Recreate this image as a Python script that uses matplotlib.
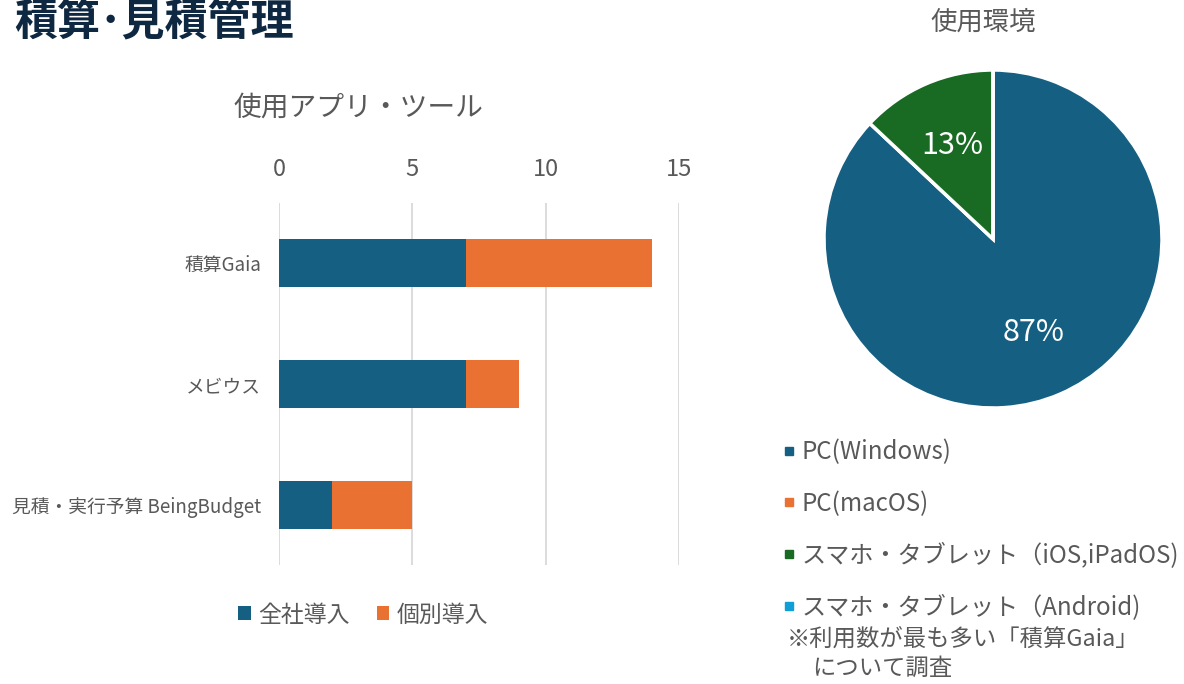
import matplotlib
matplotlib.use("Agg")
import matplotlib.pyplot as plt
from matplotlib.lines import Line2D

plt.rcParams['font.family'] = ['Noto Sans CJK JP', 'DejaVu Sans']

# bar chart data
tools = ["積算Gaia", "メビウス", "見積・実行予算 BeingBudget"]
company_wide = [7, 7, 2]
individual = [7, 2, 3]
bar_series = ["全社導入", "個別導入"]
x_ticks = [0, 5, 10, 15]

# pie chart data
env_labels = ["PC(Windows)", "PC(macOS)", "スマホ・タブレット（iOS,iPadOS)", "スマホ・タブレット（Android)"]
env_share = [87, 0, 13, 0]

BLUE = "#156082"
ORANGE = "#E97132"
GREEN = "#196B24"
SKY = "#0F9ED5"
GRAY = "#595959"
env_colors = [BLUE, ORANGE, GREEN, SKY]

W, H = 1184, 684
fig = plt.figure(figsize=(W / 100, H / 100), dpi=100)


def fx(px):
    return px / W


def fy(py):
    return 1 - py / H


fig.text(fx(14), fy(21), "積算･見積管理", fontsize=31, fontweight="bold",
         color="#0E2841", va="center", ha="left")

# --- stacked bar ---
ax = fig.add_axes([fx(279), fy(565), fx(679) - fx(279), fy(203) - fy(565)])
ypos = list(range(len(tools)))
ax.barh(ypos, company_wide, height=0.4, color=BLUE, label=bar_series[0], zorder=3)
ax.barh(ypos, individual, left=company_wide, height=0.4, color=ORANGE,
        label=bar_series[1], zorder=3)
ax.set_xlim(0, 15)
ax.set_ylim(len(tools) - 0.5, -0.5)
ax.set_xticks(x_ticks)
ax.set_yticks(ypos)
ax.set_yticklabels(tools, fontsize=13.5, color=GRAY)
ax.xaxis.tick_top()
ax.tick_params(axis="x", length=0, pad=16, labelsize=17, labelcolor=GRAY)
ax.tick_params(axis="y", length=0, pad=13)
ax.grid(axis="x", color="#D9D9D9", linewidth=1.3, zorder=0)
for s in ax.spines.values():
    s.set_visible(False)

fig.text(fx(358), fy(108), "使用アプリ・ツール", fontsize=20, color=GRAY,
         ha="center", va="center")

fig.legend(*ax.get_legend_handles_labels(), loc="center", ncol=2,
           bbox_to_anchor=(fx(363), fy(615)), frameon=False, fontsize=16.5,
           labelcolor=GRAY, handlelength=0.55, handleheight=0.55,
           handletextpad=0.3, columnspacing=1.2)

# --- pie ---
pax = fig.add_axes([fx(993 - 169), fy(239 + 169), fx(338), 338 / H])
wedges, _, autotexts = pax.pie(
    env_share, colors=env_colors, startangle=90, counterclock=False,
    autopct=lambda p: f"{p:.0f}%" if p > 0 else "", pctdistance=0.6,
    wedgeprops=dict(edgecolor="white", linewidth=2.5))
for t in autotexts:
    t.set_color("white")
    t.set_fontsize(22)
pax.set_xlim(-1, 1)
pax.set_ylim(-1, 1)
pax.set_aspect("equal")

fig.text(fx(983), fy(22), "使用環境", fontsize=19, color=GRAY,
         ha="center", va="center")

handles = [Line2D([], [], marker="s", linestyle="", markersize=6,
                  markerfacecolor=c, markeredgecolor=c) for c in env_colors]
fig.legend(handles, env_labels, loc="upper left",
           bbox_to_anchor=(fx(771), fy(427)), frameon=False, fontsize=17.4,
           labelcolor=GRAY, handlelength=0.5, handletextpad=0.25,
           labelspacing=1.07, borderpad=0)

fig.text(fx(787), fy(639), "※利用数が最も多い「積算Gaia」", fontsize=16.8,
         color=GRAY, ha="left", va="center")
fig.text(fx(812), fy(668), "について調査", fontsize=16.8, color=GRAY,
         ha="left", va="center")

fig.savefig("out.png", dpi=100)
